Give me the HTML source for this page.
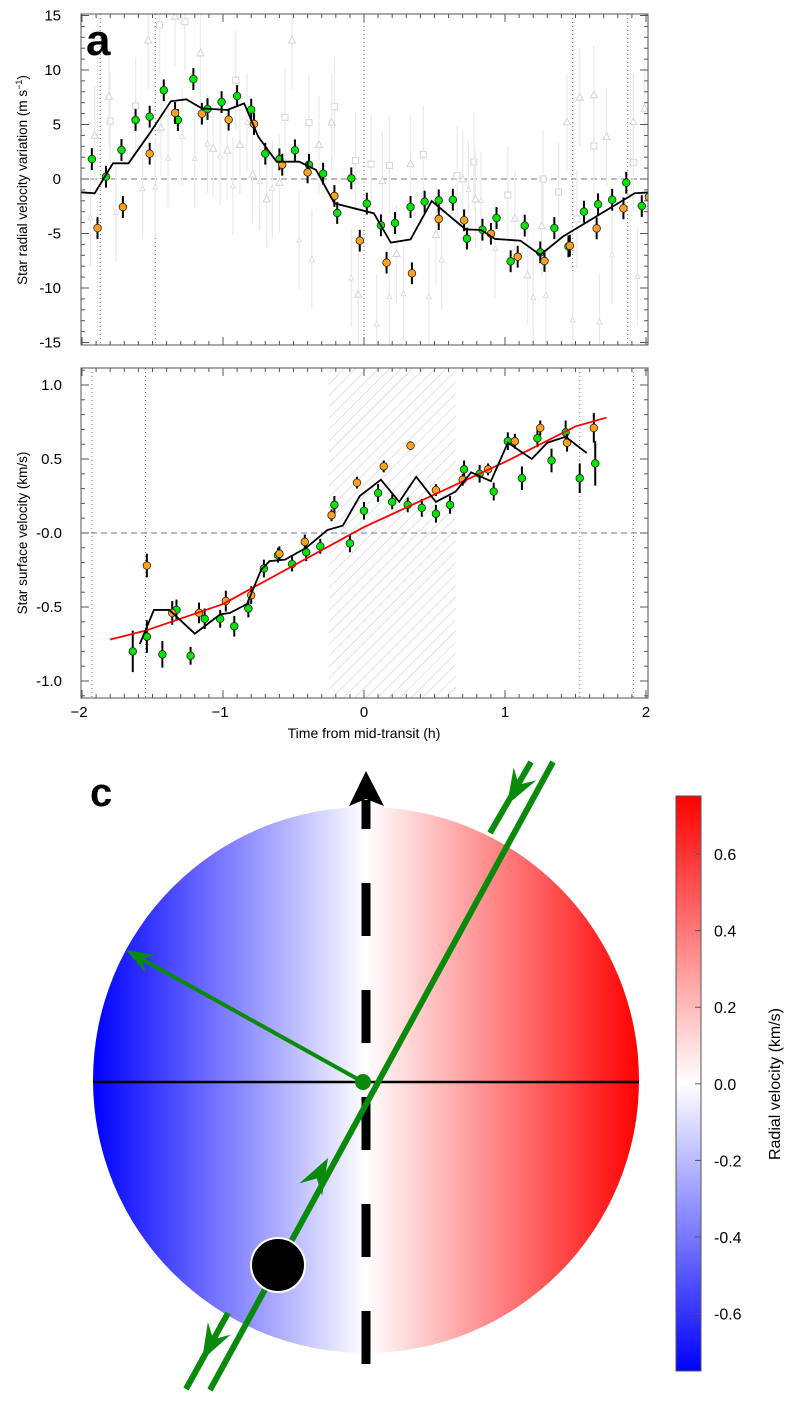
<!DOCTYPE html>
<html><head><meta charset="utf-8"><style>
html,body{margin:0;padding:0;background:#fff;}
svg{display:block;font-family:"Liberation Sans",sans-serif;}
</style></head><body>
<svg id="fig" width="800" height="1419" viewBox="0 0 800 1419" xmlns="http://www.w3.org/2000/svg">
<defs>
<pattern id="hatch" width="8" height="8" patternUnits="userSpaceOnUse" patternTransform="rotate(45)">
<line x1="0" y1="0" x2="0" y2="8" stroke="#c8c8c8" stroke-width="1"/>
</pattern>
<linearGradient id="diskGrad" x1="0" y1="0" x2="1" y2="0">
<stop offset="0" stop-color="#0000ff"/><stop offset="0.5" stop-color="#ffffff"/><stop offset="1" stop-color="#ff0000"/>
</linearGradient>
<linearGradient id="cbGrad" x1="0" y1="1" x2="0" y2="0">
<stop offset="0" stop-color="#0000ff"/><stop offset="0.5" stop-color="#ffffff"/><stop offset="1" stop-color="#ff0000"/>
</linearGradient>
<clipPath id="clipA"><rect x="81" y="14" width="567" height="331"/></clipPath>
<clipPath id="clipB"><rect x="81" y="368" width="567" height="330"/></clipPath>
</defs>
<g id="panelA"></g>
<g id="panelB"></g>
<g id="panelC"></g>
</svg>
<script>
// ---- Panel a data ----
const aGreenT=[-1.93,-1.83,-1.72,-1.62,-1.52,-1.42,-1.32,-1.21,-1.11,-1.01,-0.90,-0.80,-0.70,-0.60,-0.49,-0.39,-0.29,-0.19,-0.09,0.02,0.12,0.22,0.33,0.43,0.53,0.63,0.73,0.84,0.94,1.04,1.14,1.25,1.35,1.45,1.56,1.66,1.76,1.86,1.97];
const aGreenV=[1.83,0.21,2.66,5.41,5.72,8.14,5.41,9.17,6.42,7.06,7.61,6.36,2.32,1.80,2.63,1.31,0.49,-3.12,0.06,-2.26,-4.25,-4.04,-2.57,-2.08,-1.96,-1.90,-5.47,-4.65,-3.58,-7.55,-4.28,-6.73,-4.50,-6.18,-3.00,-2.32,-1.90,-0.34,-2.48];
const aOrangeT=[-1.89,-1.71,-1.52,-1.34,-1.15,-0.96,-0.78,-0.58,-0.40,-0.21,-0.03,0.16,0.34,0.53,0.71,0.90,1.09,1.28,1.46,1.65,1.84,2.02];
const aOrangeV=[-4.50,-2.57,2.32,6.06,5.99,5.44,5.05,1.31,0.61,-1.56,-5.66,-7.68,-8.65,-3.67,-3.79,-5.02,-7.13,-7.52,-6.12,-4.53,-2.69,-1.65];
const aModelT=[-2.01,-1.91,-1.78,-1.67,-1.52,-1.37,-1.26,-1.15,-0.97,-0.85,-0.75,-0.62,-0.46,-0.34,-0.21,0.07,0.19,0.33,0.48,0.72,0.83,0.93,1.11,1.25,1.41,1.92,2.03];
const aModelV=[-1.22,-1.31,1.44,1.44,4.19,7.13,7.31,6.48,6.33,6.94,3.88,1.59,1.59,0.83,-2.23,-3.15,-5.84,-5.54,-2.02,-4.62,-4.68,-5.50,-5.66,-6.97,-5.29,-1.31,-1.22];
const aSqT=[-1.80,-1.62,-1.45,-1.27,-0.91,-0.56,-0.39,-0.21,-0.06,0.05,0.18,0.42,0.66,0.78,1.02,1.27,1.38,1.51,1.63,1.91];
const aSqV=[5.32,6.70,14.13,14.43,9.08,5.66,5.17,6.63,1.68,1.37,1.25,2.26,0.31,1.56,-1.47,0.00,-1.19,-3.67,3.03,1.53];
const aTriT=[-1.91,-1.81,-1.53,-1.44,-1.34,-1.16,-1.07,-0.97,-0.88,-0.79,-0.69,-0.60,-0.51,-0.32,-0.23,-0.04,0.13,0.23,0.33,0.51,0.70,0.79,1.07,1.16,1.26,1.44,1.53,1.63,1.72,1.91,1.99];
const aTriV=[3.97,7.55,12.69,4.71,14.89,11.53,2.78,2.60,3.12,0.40,-1.87,-0.34,12.69,3.12,5.17,-10.61,-0.19,-6.88,1.37,-5.14,-0.03,-1.87,-3.64,-8.84,-4.34,5.20,7.46,7.68,3.85,5.23,6.45];
const aStarT=[-1.94,-1.76,-1.57,-1.48,-1.39,-1.29,-1.20,-1.11,-1.02,-0.93,-0.83,-0.74,-0.65,-0.46,-0.37,-0.09,0.09,0.18,0.28,0.46,0.55,0.74,0.83,0.93,1.20,1.29,1.48,1.67,1.76,1.94];
const aStarV=[-3.55,-3.06,-0.89,-0.74,1.92,3.91,1.89,3.21,2.11,-0.64,5.20,-0.25,-0.89,-5.60,-7.40,-9.08,-13.30,-10.80,-10.52,-10.80,-7.43,-0.98,-1.99,-6.39,-10.89,-10.67,-12.94,-13.12,-6.97,-8.96];
const aErr=1.0, aGreyErr=4.5;
const aTickLabels=[15,10,5,0,-5,-10,-15];
const aDotted=[-1.87,-1.48,0.0,1.48,1.87];
// ---- Panel b data ----
const bGreenT=[-1.64,-1.54,-1.43,-1.33,-1.23,-1.13,-1.02,-0.92,-0.82,-0.71,-0.61,-0.51,-0.41,-0.31,-0.21,-0.10,0.00,0.10,0.20,0.31,0.41,0.51,0.61,0.71,0.82,0.92,1.02,1.12,1.23,1.33,1.43,1.53,1.64];
const bGreenV=[-0.80,-0.70,-0.82,-0.52,-0.83,-0.58,-0.58,-0.63,-0.51,-0.24,-0.15,-0.21,-0.13,-0.09,0.19,-0.07,0.15,0.27,0.21,0.19,0.17,0.13,0.19,0.43,0.40,0.28,0.62,0.37,0.64,0.49,0.68,0.37,0.47];
const bGreenE=[0.14,0.11,0.09,0.07,0.06,0.07,0.06,0.07,0.06,0.06,0.05,0.05,0.06,0.05,0.06,0.06,0.06,0.06,0.05,0.05,0.06,0.06,0.06,0.06,0.06,0.06,0.06,0.08,0.06,0.08,0.08,0.10,0.15];
const bOrangeT=[-1.54,-1.36,-1.17,-0.98,-0.80,-0.60,-0.42,-0.23,-0.05,0.14,0.33,0.51,0.70,0.88,1.07,1.25,1.44,1.63];
const bOrangeV=[-0.22,-0.54,-0.54,-0.46,-0.42,-0.14,-0.06,0.12,0.34,0.45,0.59,0.29,0.36,0.43,0.62,0.71,0.61,0.71];
const bOrangeE=[0.08,0.08,0.07,0.07,0.06,0.05,0.05,0.04,0.04,0.04,0.03,0.04,0.04,0.04,0.05,0.05,0.06,0.10];
const bModelT=[-1.59,-1.49,-1.38,-1.20,-1.02,-0.95,-0.83,-0.73,-0.67,-0.56,-0.41,-0.26,-0.15,-0.03,0.12,0.25,0.37,0.51,0.65,0.76,0.90,1.02,1.19,1.30,1.43,1.58];
const bModelV=[-0.75,-0.52,-0.52,-0.68,-0.55,-0.54,-0.48,-0.25,-0.19,-0.18,-0.10,0.02,0.05,0.25,0.36,0.21,0.38,0.21,0.28,0.41,0.35,0.61,0.50,0.61,0.65,0.54];
const bFitT=[-1.80,-1.55,-1.0,0.0,1.0,1.5,1.72];
const bFitV=[-0.72,-0.66,-0.48,0.04,0.48,0.72,0.78];
const bTickLabels=["1.0","0.5","-0.0","-0.5","-1.0"];
const bTickVals=[1.0,0.5,0.0,-0.5,-1.0];
const bDotted=[-1.93,-1.55,1.53,1.91];
const bTransit=[-0.25,0.65];
const xTickVals=[-2,-1,0,1,2];
const xTickLabels=["\u22122","\u22121","0","1","2"];
// ---- Colorbar data ----
const cbTickVals=[0.6,0.4,0.2,0.0,-0.2,-0.4,-0.6];
const cbTickLabels=["0.6","0.4","0.2","0.0","-0.2","-0.4","-0.6"];

const NS="http://www.w3.org/2000/svg";
function mk(parent,tag,attrs,text){const e=document.createElementNS(NS,tag);for(const k in attrs)e.setAttribute(k,attrs[k]);if(text!==undefined)e.textContent=text;parent.appendChild(e);return e;}
const X0=81,X1=648;
const xS=t=>364+141*t;
const yA=v=>179-10.9*v;
const yB=v=>533-148*v;
const yC=v=>1083.8-383*v;

// ===== Panel A =====
const pA=document.getElementById('panelA');
const gA=mk(pA,'g',{'clip-path':'url(#clipA)'});


aDotted.forEach(t=>{const l=mk(gA,'line',{x1:xS(t),x2:xS(t),y1:14,y2:345,stroke:'#777','stroke-width':1,'stroke-dasharray':'1,3'});

});
const z=mk(gA,'line',{x1:X0,x2:X1,y1:yA(0),y2:yA(0),stroke:'#777','stroke-width':1,'stroke-dasharray':'6,4'});


function greyPts(T,V,shape){T.forEach((t,i)=>{const x=xS(t),y=yA(V[i]);
const eb=mk(gA,'line',{x1:x,x2:x,y1:yA(V[i]+aGreyErr),y2:yA(V[i]-aGreyErr),stroke:'#ebebeb','stroke-width':1.3});


let m;
if(shape==='sq')m=mk(gA,'rect',{x:x-3,y:y-3,width:6,height:6,fill:'#fff',stroke:'#d4d4d4','stroke-width':1});
else if(shape==='tri')m=mk(gA,'polygon',{points:`${x},${y-4} ${x-3.5},${y+2.5} ${x+3.5},${y+2.5}`,fill:'#fff',stroke:'#d4d4d4','stroke-width':1});
else m=mk(gA,'polygon',{points:`${x},${y-3} ${x-2.5},${y+2} ${x+2.5},${y+2}`,fill:'#fff',stroke:'#dadada','stroke-width':0.8});

});}
greyPts(aSqT,aSqV,'sq');greyPts(aTriT,aTriV,'tri');greyPts(aStarT,aStarV,'star');
function colorPts(g,T,V,E,ys,fill,name){T.forEach((t,i)=>{const x=xS(t),y=ys(V[i]);const e=Array.isArray(E)?E[i]:E;
const eb=mk(g,'line',{x1:x,x2:x,y1:ys(V[i]+e),y2:ys(V[i]-e),stroke:'#000','stroke-width':2});


const c=mk(g,'circle',{cx:x,cy:y,r:3.8,fill:fill,stroke:'#222','stroke-width':0.8});

});}
colorPts(gA,aGreenT,aGreenV,aErr,yA,'#00e600','green');
colorPts(gA,aOrangeT,aOrangeV,aErr,yA,'#ffa21a','orange');
const mA=mk(gA,'polyline',{points:aModelT.map((t,i)=>xS(t)+','+yA(aModelV[i])).join(' '),fill:'none',stroke:'#000','stroke-width':1.8});


function frame(p,y0,y1,yminor,ymajor,ys,vmin,vmax){
const r=mk(p,'rect',{x:X0,y:y0,width:X1-X0,height:y1-y0,fill:'none',stroke:'#555','stroke-width':1});


for(let k=-20;k<=20;k++){const t=k/10;const x=xS(t);if(x<X0-0.5||x>X1+0.5)continue;const L=(k%10===0)?8:4;
mk(p,'line',{x1:x,x2:x,y1:y1,y2:y1-L,stroke:'#555','stroke-width':1});mk(p,'line',{x1:x,x2:x,y1:y0,y2:y0+L,stroke:'#555','stroke-width':1});}
for(let v=vmin;v<=vmax+1e-9;v+=yminor){const y=ys(v);if(y<y0-0.5||y>y1+0.5)continue;const maj=Math.abs(v/ymajor-Math.round(v/ymajor))<1e-6;const L=maj?8:4;
mk(p,'line',{x1:X0,x2:X0+L,y1:y,y2:y,stroke:'#555','stroke-width':1});mk(p,'line',{x1:X1,x2:X1-L,y1:y,y2:y,stroke:'#555','stroke-width':1});}}
frame(pA,14,345,1,5,yA,-16,16);
aTickLabels.forEach(v=>{const t=mk(pA,'text',{x:61,y:yA(v)+5,'text-anchor':'end','font-size':15,fill:'#000'},String(v));

});
const la=mk(pA,'text',{x:86,y:55,'font-size':44,'font-weight':'bold',fill:'#000'},'a');


const ta=mk(pA,'text',{x:0,y:0,'font-size':13.5,'text-anchor':'middle',transform:'translate(27,180) rotate(-90)',fill:'#000'});


ta.innerHTML='Star radial velocity variation (m s<tspan dy="-5" font-size="9">\u22121</tspan><tspan dy="5">)</tspan>';

// ===== Panel B =====
const pB=document.getElementById('panelB');
const gB=mk(pB,'g',{'clip-path':'url(#clipB)'});


const hz=mk(gB,'rect',{x:xS(bTransit[0]),y:368,width:xS(bTransit[1])-xS(bTransit[0]),height:330,fill:'url(#hatch)'});


bDotted.forEach(t=>{const l=mk(gB,'line',{x1:xS(t),x2:xS(t),y1:368,y2:698,stroke:'#777','stroke-width':1,'stroke-dasharray':'1,3'});

});
const zb=mk(gB,'line',{x1:X0,x2:X1,y1:yB(0),y2:yB(0),stroke:'#777','stroke-width':1,'stroke-dasharray':'6,4'});


colorPts(gB,bGreenT,bGreenV,bGreenE,yB,'#00e600','green');
colorPts(gB,bOrangeT,bOrangeV,bOrangeE,yB,'#ffa21a','orange');
const fit=mk(gB,'polyline',{points:bFitT.map((t,i)=>xS(t)+','+yB(bFitV[i])).join(' '),fill:'none',stroke:'#ff0000','stroke-width':1.8,'stroke-linejoin':'round'});


const mB=mk(gB,'polyline',{points:bModelT.map((t,i)=>xS(t)+','+yB(bModelV[i])).join(' '),fill:'none',stroke:'#000','stroke-width':1.8});


frame(pB,368,698,0.1,0.5,yB,-1.2,1.2);
bTickVals.forEach((v,i)=>{const t=mk(pB,'text',{x:62,y:yB(v)+5,'text-anchor':'end','font-size':15,fill:'#000'},bTickLabels[i]);

});
xTickVals.forEach((v,i)=>{const t=mk(pB,'text',{x:xS(v)-(v<0?3:0),y:717,'text-anchor':'middle','font-size':15,fill:'#000'},xTickLabels[i]);

});
const xt=mk(pB,'text',{x:364,y:738,'text-anchor':'middle','font-size':14,fill:'#000'},'Time from mid-transit (h)');


const tb=mk(pB,'text',{x:0,y:0,'font-size':13.5,'text-anchor':'middle',transform:'translate(27,533) rotate(-90)',fill:'#000'},'Star surface velocity (km/s)');



// ===== Panel C =====
const pC=document.getElementById('panelC');
const disk=mk(pC,'circle',{cx:366,cy:1080,r:273,fill:'url(#diskGrad)'});


const eq=mk(pC,'line',{x1:93,x2:639,y1:1082,y2:1082,stroke:'#000','stroke-width':2.5});


[[800,829],[883,936],[990,1043],[1097,1150],[1204,1257],[1311,1364]].forEach(d=>{
const s=mk(pC,'line',{x1:366,x2:366,y1:d[0],y2:d[1],stroke:'#000','stroke-width':9});

});
const ah=mk(pC,'polygon',{points:'366,771 384,806 366,799 349,806',fill:'#000'});


const G='#0a8a0a';
const o1=mk(pC,'line',{x1:210,y1:1390,x2:553,y2:762,stroke:G,'stroke-width':6});


const o2=mk(pC,'line',{x1:186,y1:1389,x2:228,y2:1313,stroke:G,'stroke-width':6});


const o3=mk(pC,'line',{x1:490,y1:833,x2:531,y2:762,stroke:G,'stroke-width':6});


function arrowHead(tx,ty,dx,dy,len,half,name){const n=Math.hypot(dx,dy);dx/=n;dy/=n;const px=-dy,py=dx;
const bx=tx-dx*len,by=ty-dy*len,nx=tx-dx*len*0.65,ny=ty-dy*len*0.65;
const p=mk(pC,'polygon',{points:`${tx},${ty} ${bx+px*half},${by+py*half} ${nx},${ny} ${bx-px*half},${by-py*half}`,fill:G});

}
arrowHead(328,1158,0.48,-0.877,36,13,'orbit-arrow-up');
arrowHead(202,1360,-0.48,0.877,36,13,'orbit-arrow-down-bottom');
arrowHead(507,805,-0.5,0.866,36,13,'orbit-arrow-down-top');
const sp=mk(pC,'line',{x1:363,y1:1082,x2:138,y2:957,stroke:G,'stroke-width':4});


arrowHead(126,950,-0.874,-0.486,28,10,'spin-vector-arrowhead');
const cd=mk(pC,'circle',{cx:363,cy:1082,r:8,fill:G});


const pl=mk(pC,'circle',{cx:278,cy:1265,r:27,fill:'#000',stroke:'#fff','stroke-width':2});


const lc=mk(pC,'text',{x:90,y:806,'font-size':40,'font-weight':'bold',fill:'#000'},'c');


const cb=mk(pC,'rect',{x:676,y:796,width:25,height:575,fill:'url(#cbGrad)',stroke:'#555','stroke-width':1});


cbTickVals.forEach((v,i)=>{const y=yC(v);
mk(pC,'line',{x1:695,x2:701,y1:y,y2:y,stroke:'#555','stroke-width':1});
const t=mk(pC,'text',{x:714,y:y+6,'font-size':16,fill:'#000'},cbTickLabels[i]);

});
const ct=mk(pC,'text',{x:0,y:0,'font-size':16,'text-anchor':'middle',transform:'translate(780,1084) rotate(-90)',fill:'#000'},'Radial velocity (km/s)');


</script>
</body></html>
